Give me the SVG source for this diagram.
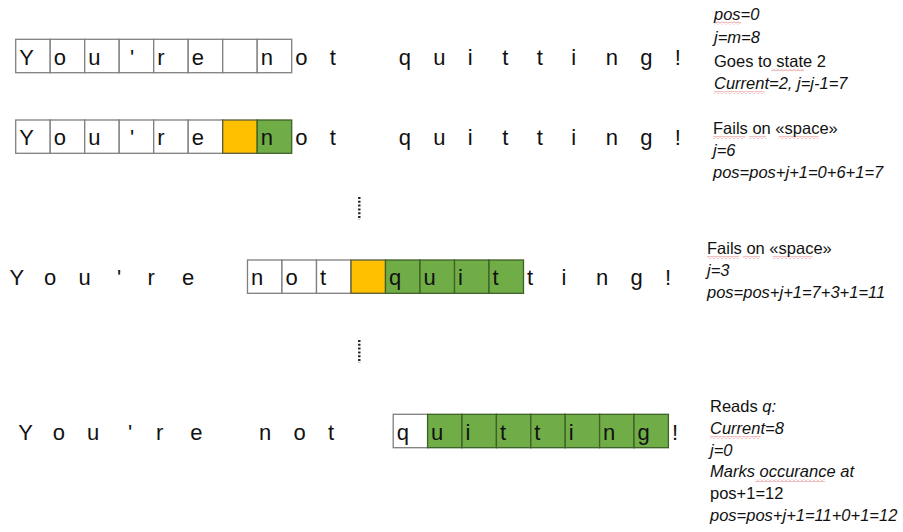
<svg xmlns="http://www.w3.org/2000/svg" width="903" height="532" viewBox="0 0 903 532">
<style>
  .cell{fill:#ffffff;stroke:#7f7f7f;stroke-width:1.3}
  .or{fill:#ffc000;stroke:#5a5a3a;stroke-width:1.3}
  .gr{fill:#70ad47;stroke:#3d6128;stroke-width:1.3}
  .ch{font-family:"Liberation Sans",Arial,sans-serif;font-size:22px;fill:#111111}
  .note{font-family:"Liberation Sans",Arial,sans-serif;font-size:16.5px;fill:#111111}
  .it{font-style:italic}
  .sq{fill:url(#wave)}
  .dots{stroke:#222222;stroke-width:2.4;stroke-dasharray:2 1.8;fill:none}
</style>
<defs>
  <pattern id="wave" patternUnits="userSpaceOnUse" width="4" height="3">
    <path d="M0,2.5 L2,0.5 L4,2.5" fill="none" stroke="#e06666" stroke-width="0.8"/>
  </pattern>
</defs>

<g id="row1">
  <rect class="cell" x="15.7" y="39.3" width="34.5" height="33.4"/>
  <rect class="cell" x="50.2" y="39.3" width="34.5" height="33.4"/>
  <rect class="cell" x="84.7" y="39.3" width="34.5" height="33.4"/>
  <rect class="cell" x="119.2" y="39.3" width="34.5" height="33.4"/>
  <rect class="cell" x="153.7" y="39.3" width="34.5" height="33.4"/>
  <rect class="cell" x="188.2" y="39.3" width="34.5" height="33.4"/>
  <rect class="cell" x="222.7" y="39.3" width="34.5" height="33.4"/>
  <rect class="cell" x="257.2" y="39.3" width="34.5" height="33.4"/>
  <text class="ch" y="65" x="19.2 53.7 88.2 130 157.2 191.7">You're</text>
  <text class="ch" y="65" x="260.7 295.2 329.7">not</text>
  <text class="ch" y="65" x="398.7 433.2 467.7 502.2 536.7 571.2 605.7 640.2 674.7">quitting!</text>
</g>

<g id="row2">
  <rect class="cell" x="15.7" y="120" width="34.5" height="33.3"/>
  <rect class="cell" x="50.2" y="120" width="34.5" height="33.3"/>
  <rect class="cell" x="84.7" y="120" width="34.5" height="33.3"/>
  <rect class="cell" x="119.2" y="120" width="34.5" height="33.3"/>
  <rect class="cell" x="153.7" y="120" width="34.5" height="33.3"/>
  <rect class="cell" x="188.2" y="120" width="34.5" height="33.3"/>
  <rect class="or" x="222.7" y="120" width="34.5" height="33.3"/>
  <rect class="gr" x="257.2" y="120" width="34.5" height="33.3"/>
  <text class="ch" y="145" x="19.2 53.7 88.2 130 157.2 191.7">You're</text>
  <text class="ch" y="145" x="260.7 295.2 329.7">not</text>
  <text class="ch" y="145" x="398.7 433.2 467.7 502.2 536.7 571.2 605.7 640.2 674.7">quitting!</text>
</g>

<g id="row3">
  <rect class="cell" x="247.5" y="260" width="34.5" height="33.3"/>
  <rect class="cell" x="282" y="260" width="34.5" height="33.3"/>
  <rect class="cell" x="316.5" y="260" width="34.5" height="33.3"/>
  <rect class="or" x="351" y="260" width="34.5" height="33.3"/>
  <rect class="gr" x="385.5" y="260" width="34.5" height="33.3"/>
  <rect class="gr" x="420" y="260" width="34.5" height="33.3"/>
  <rect class="gr" x="454.5" y="260" width="34.5" height="33.3"/>
  <rect class="gr" x="489" y="260" width="34.5" height="33.3"/>
  <text class="ch" y="285" x="9.5 44 78.5 117 147.5 182">You're</text>
  <text class="ch" y="285" x="251 285.5 320">not</text>
  <text class="ch" y="285" x="389 423.5 458 492.5 527 561.5 596 630.5 665">quitting!</text>
</g>

<g id="row4">
  <rect class="cell" x="393.2" y="414.3" width="34.4" height="33.4"/>
  <rect class="gr" x="427.6" y="414.3" width="34.4" height="33.4"/>
  <rect class="gr" x="462" y="414.3" width="34.4" height="33.4"/>
  <rect class="gr" x="496.4" y="414.3" width="34.4" height="33.4"/>
  <rect class="gr" x="530.8" y="414.3" width="34.4" height="33.4"/>
  <rect class="gr" x="565.2" y="414.3" width="34.4" height="33.4"/>
  <rect class="gr" x="599.6" y="414.3" width="34.4" height="33.4"/>
  <rect class="gr" x="634" y="414.3" width="34.4" height="33.4"/>
  <text class="ch" y="440" x="18.3 52.7 87.1 128 155.9 190.3">You're</text>
  <text class="ch" y="440" x="259.1 293.5 327.9">not</text>
  <text class="ch" y="440" x="396.7 431.1 465.5 499.9 534.3 568.7 603.1 637.5 671.9">quitting!</text>
</g>

<g id="ellipsis">
  <line class="dots" x1="359.3" y1="197" x2="359.3" y2="220"/>
  <line class="dots" x1="359.3" y1="340" x2="359.3" y2="363"/>
</g>

<g id="note1">
  <rect class="sq" x="714" y="21.5" width="27" height="3"/>
  <rect class="sq" x="771" y="68.5" width="33" height="3"/>
  <rect class="sq" x="714" y="91" width="50.5" height="3"/>
  <text class="note it" x="714" y="19.5">pos=0</text>
  <text class="note it" x="714" y="43">j=m=8</text>
  <text class="note" x="714" y="66.5">Goes to state 2</text>
  <text class="note it" x="714" y="89">Current=2, j=j-1=7</text>
</g>

<g id="note2">
  <rect class="sq" x="713" y="136" width="32" height="3"/>
  <rect class="sq" x="749" y="136" width="17" height="3"/>
  <rect class="sq" x="778.5" y="136" width="40" height="3"/>
  <text class="note" x="713" y="134">Fails on «space»</text>
  <text class="note it" x="713" y="156">j=6</text>
  <text class="note it" x="713" y="178">pos=pos+j+1=0+6+1=7</text>
</g>

<g id="note3">
  <rect class="sq" x="707" y="256" width="32" height="3"/>
  <rect class="sq" x="743" y="256" width="17" height="3"/>
  <rect class="sq" x="772.5" y="256" width="40" height="3"/>
  <text class="note" x="707" y="254">Fails on «space»</text>
  <text class="note it" x="707" y="276">j=3</text>
  <text class="note it" x="707" y="298">pos=pos+j+1=7+3+1=11</text>
</g>

<g id="note4">
  <rect class="sq" x="710" y="436" width="50.5" height="3"/>
  <rect class="sq" x="755" y="479" width="70" height="3"/>
  <text class="note" x="710" y="412">Reads <tspan class="it">q:</tspan></text>
  <text class="note it" x="710" y="434">Current=8</text>
  <text class="note it" x="710" y="456">j=0</text>
  <text class="note it" x="710" y="477">Marks occurance at</text>
  <text class="note" x="710" y="499">pos+1=12</text>
  <text class="note it" x="710" y="521">pos=pos+j+1=11+0+1=12</text>
</g>
</svg>
